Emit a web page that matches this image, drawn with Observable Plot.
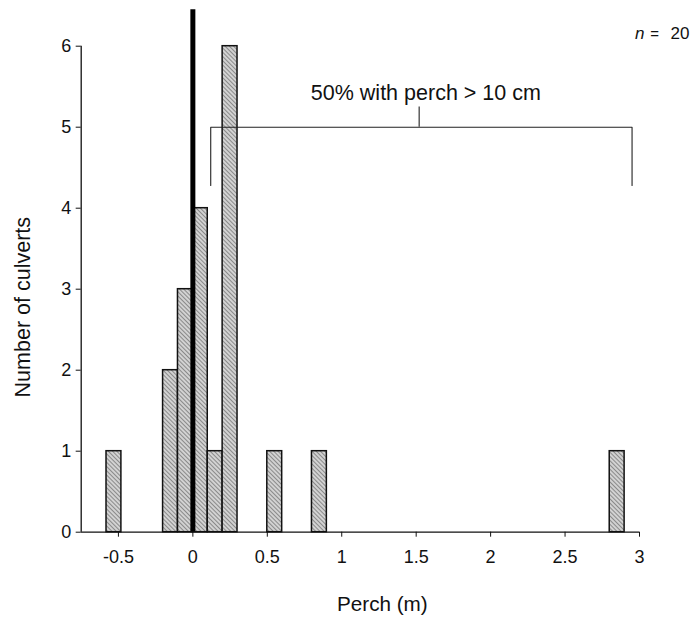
<!DOCTYPE html>
<html>
<head>
<meta charset="utf-8">
<script src="https://cdn.jsdelivr.net/npm/d3@7"></script>
<script src="https://cdn.jsdelivr.net/npm/@observablehq/plot@0.6"></script>
<style>
  html, body { margin: 0; padding: 0; background: #fff; }
  #chart svg { display: block; }
</style>
</head>
<body>
<div id="chart"></div>
<script>
// Histogram bins (perch, m) and counts of culverts
const binStart = [-0.58, -0.2, -0.1, 0.0, 0.1, 0.2, 0.5, 0.8, 2.8];
const binEnd   = [-0.48, -0.1,  0.0, 0.1, 0.2, 0.3, 0.6, 0.9, 2.9];
const counts   = [1, 2, 3, 4, 1, 6, 1, 1, 1];

const xDomain = [-0.75, 3];
const yDomain = [0, 6];
const xTicks = [-0.5, 0, 0.5, 1, 1.5, 2, 2.5, 3];
const yTicks = [0, 1, 2, 3, 4, 5, 6];

// Zero-perch reference line
const zeroLineX = [0];
const zeroLineTop = 6.45;

// Bracket marking culverts with perch > 10 cm
const bracketX = [0.12, 0.12, 2.95, 2.95];
const bracketY = [4.28, 5, 5, 4.28];
const bracketTickX = [1.52];
const bracketTickY = [5, 5.25];
const annotation = ["50% with perch > 10 cm"];
const annotationX = [1.565];
const annotationY = [5.34];
const nParts = ["n", "=", "20"];

const bins = binStart.map((s, i) => ({x1: s, x2: binEnd[i], count: counts[i]}));
const font = "'Liberation Sans', Arial, Helvetica, sans-serif";

const svg = Plot.plot({
  width: 693,
  height: 619,
  marginLeft: 80.7,
  marginRight: 54,
  marginTop: 45.7,
  marginBottom: 87.3,
  style: {fontFamily: font, fontSize: "18px", color: "#111", background: "#fff"},
  x: {domain: xDomain, ticks: xTicks, tickFormat: d => String(d), tickSize: 5, tickPadding: 13, label: null},
  y: {domain: yDomain, ticks: yTicks, tickFormat: d => String(d), tickSize: 5, tickPadding: 5, label: null},
  marks: [
    Plot.rectY(bins, {x1: "x1", x2: "x2", y1: 0, y2: "count", fill: "url(#hatch)", stroke: "#111", strokeWidth: 1.5, inset: 0}),
    Plot.ruleX(zeroLineX, {y1: 0, y2: zeroLineTop, stroke: "#000", strokeWidth: 5}),
    Plot.ruleY([yDomain[0]], {x1: xDomain[0], x2: xDomain[1], stroke: "#111", strokeWidth: 1.3}),
    Plot.ruleX([xDomain[0]], {y1: yDomain[0], y2: yDomain[1], stroke: "#111", strokeWidth: 1.3}),
    Plot.line(bracketX.map((x, i) => ({x, y: bracketY[i]})), {x: "x", y: "y", stroke: "#222", strokeWidth: 1.1}),
    Plot.ruleX(bracketTickX, {y1: bracketTickY[0], y2: bracketTickY[1], stroke: "#222", strokeWidth: 1.1}),
    Plot.text(annotation, {x: annotationX, y: annotationY, text: d => d, fontSize: 21.5, textAnchor: "middle", lineAnchor: "bottom", fill: "#111"}),
    Plot.text(["Number of culverts"], {frameAnchor: "left", text: d => d, rotate: -90, dx: -58, dy: 18, fontSize: 21.5, textAnchor: "middle", lineAnchor: "middle", fill: "#111"}),
    Plot.text(["Perch (m)"], {frameAnchor: "bottom", text: d => d, dx: 22, dy: 79, fontSize: 20.7, textAnchor: "middle", lineAnchor: "bottom", fill: "#111"}),
    Plot.text([nParts[0]], {frameAnchor: "top-right", text: d => d, dx: 5, dy: -7.7, fontSize: 17, fontStyle: "italic", textAnchor: "end", lineAnchor: "bottom", fill: "#111"}),
    Plot.text([nParts[1]], {frameAnchor: "top-right", text: d => d, dx: 15, dy: -7.7, fontSize: 15, textAnchor: "middle", lineAnchor: "bottom", fill: "#111"}),
    Plot.text([nParts[2]], {frameAnchor: "top-right", text: d => d, dx: 50, dy: -7.7, fontSize: 17, textAnchor: "end", lineAnchor: "bottom", fill: "#111"})
  ]
});

// hatch pattern for the bars
const ns = "http://www.w3.org/2000/svg";
const defs = document.createElementNS(ns, "defs");
defs.innerHTML = `<pattern id="hatch" patternUnits="userSpaceOnUse" width="3" height="3" patternTransform="rotate(-45)">
  <rect width="3" height="3" fill="#d2d2d2"></rect>
  <line x1="0.5" y1="0" x2="0.5" y2="3" stroke="#8a8a8a" stroke-width="1"></line>
</pattern>`;
svg.insertBefore(defs, svg.firstChild);

document.getElementById("chart").appendChild(svg);
</script>
</body>
</html>
